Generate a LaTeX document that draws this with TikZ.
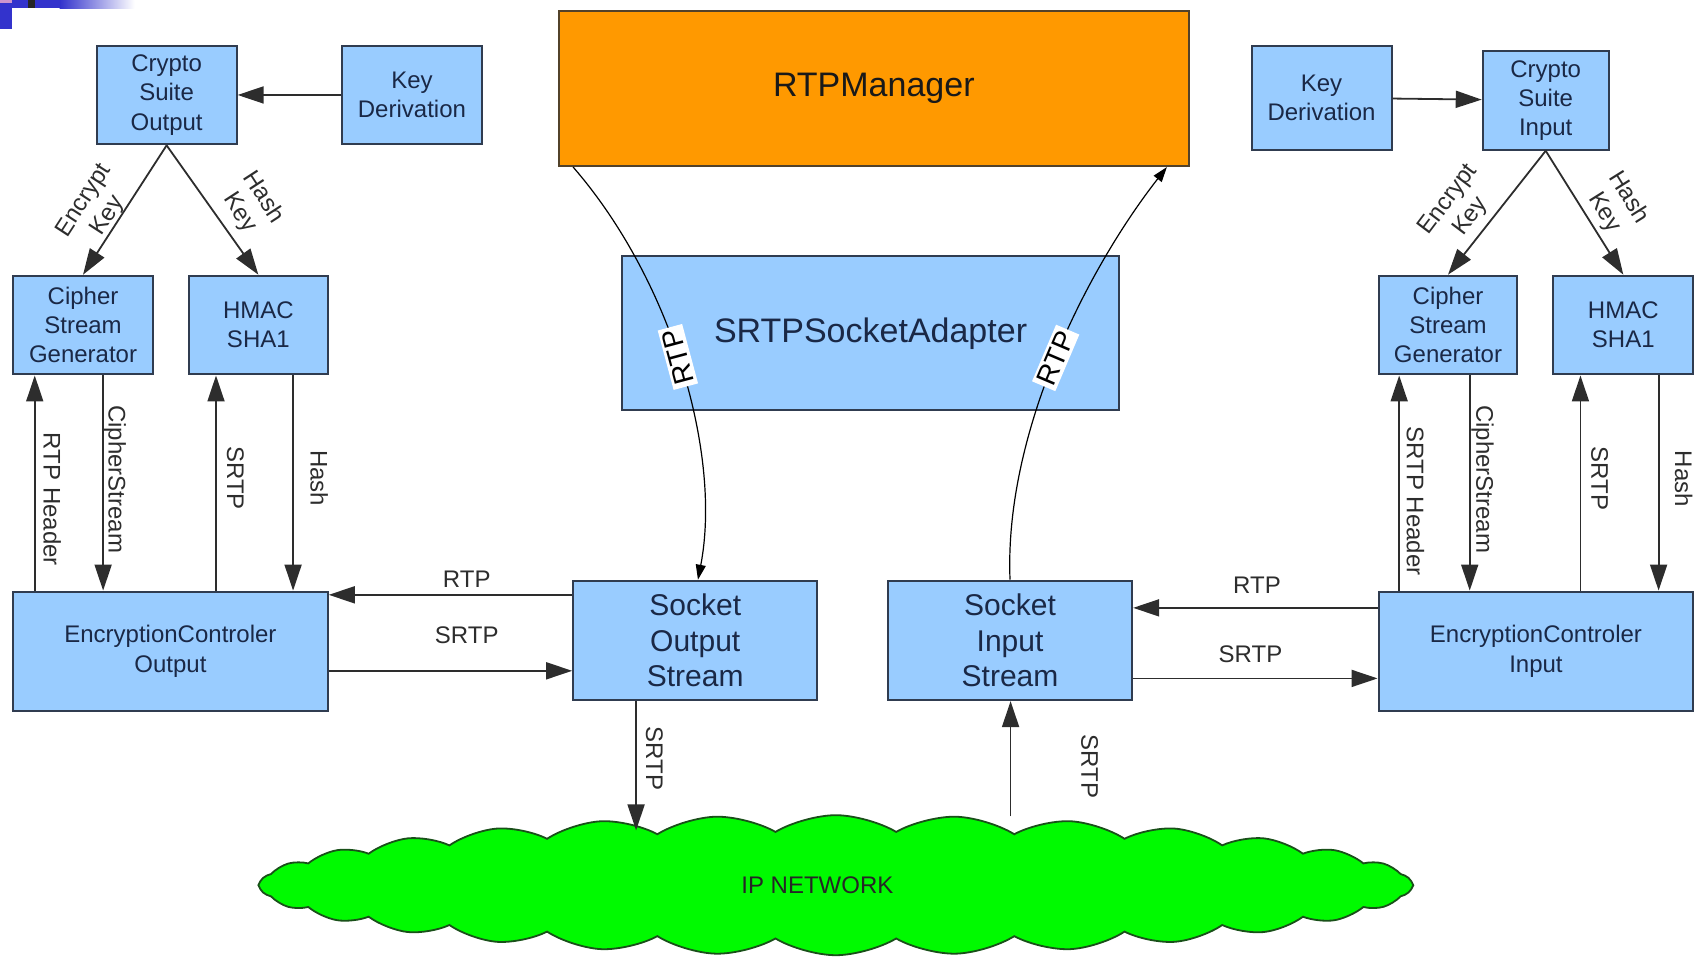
\documentclass[tikz,border=0pt]{standalone}
\usepackage{fontspec}
\setmainfont{Liberation Sans}
\usetikzlibrary{arrows.meta,shapes.symbols}

\newdimen\ux
\ux=0.54273pt

\definecolor{boxblue}{RGB}{153,204,255}
\definecolor{boxline}{RGB}{48,60,80}
\definecolor{boxtext}{RGB}{26,40,70}
\definecolor{mgrorange}{RGB}{255,153,0}
\definecolor{mgrline}{RGB}{82,66,42}
\definecolor{netgreen}{RGB}{0,250,0}
\definecolor{netline}{RGB}{25,80,25}
\definecolor{decoblue}{RGB}{51,51,204}
\definecolor{decopink}{RGB}{205,150,205}
\definecolor{wire}{RGB}{45,45,45}

\begin{document}
\begin{tikzpicture}[x=0.54273pt, y=-0.54273pt,
  box/.style={draw=boxline, line width=1pt, fill=boxblue, inner sep=0pt,
    text=boxtext, align=center, font=\fontsize{12}{14.6}\selectfont},
  size/.style 2 args={minimum width=#1\ux, minimum height=#2\ux},
  sockbox/.style={box, font=\fontsize{15}{17.9}\selectfont},
  titlebox/.style={box, font=\fontsize{17}{20}\selectfont},
  arr/.style={draw=wire, line width=0.9pt, -{Triangle[length=13pt,width=8.5pt]}},
  curve/.style={draw=black, line width=0.6pt, -{Triangle[length=7.5pt,width=5pt]}},
  lbl/.style={text=wire, inner sep=1pt, font=\fontsize{12}{14}\selectfont, align=center},
  vlbl/.style={lbl, rotate=-90, anchor=mid},
  rtplbl/.style={fill=white, text=black, inner sep=1.5pt, font=\fontsize{14}{16}\selectfont},
]
\useasboundingbox (0,0) rectangle (1568,881);

% corner ornament of the slide
\shade[left color=decoblue, right color=white] (55,0) rectangle (124,7.4);
\fill[decoblue] (0,0) rectangle (56,7.4);
\fill[decoblue] (0,0) rectangle (11,27);
\fill[decopink] (0,0) rectangle (11,2.5);
\fill[black!85] (26,0) rectangle (32,7.4);

% output side (left)
\node[box, size={129}{91}]  (cso)   at (153.5,87.5) {Crypto\\Suite\\Output};
\node[box, size={129}{91}]  (kdl)   at (379.5,87.5) {Key\\Derivation};
\node[box, size={129}{91}]  (csgl)  at (76.5,299.5) {Cipher\\Stream\\Generator};
\node[box, size={128}{91}]  (hmacl) at (238,299.5)  {HMAC\\SHA1};
\node[box, size={290}{110}] (eco)   at (157,600)    {EncryptionControler\\Output};

% input side (right)
\node[box, size={129}{96}]  (kdr)   at (1217.5,90)   {Key\\Derivation};
\node[box, size={116}{91}]  (csi)   at (1424,92.5)   {Crypto\\Suite\\Input};
\node[box, size={128}{91}]  (csgr)  at (1334,299.5)  {Cipher\\Stream\\Generator};
\node[box, size={129}{91}]  (hmacr) at (1495.5,299.5){HMAC\\SHA1};
\node[box, size={290}{110}] (eci)   at (1415,600)    {EncryptionControler\\Input};

% middle column
\node[titlebox, size={580}{143}, fill=mgrorange, draw=mgrline, text=black!90] (mgr) at (805,81.5) {RTPManager};
\node[titlebox, size={458}{142}] (ssa) at (802,307) {SRTPSocketAdapter};
\node[sockbox, size={225}{110}] (sos) at (640.5,590) {Socket\\Output\\Stream};
\node[sockbox, size={225}{110}] (sis) at (930.5,590) {Socket\\Input\\Stream};

% the network
\node[cloud, cloud puffs=30, cloud puff arc=62, aspect=8.2, draw=netline, fill=netgreen,
      line width=0.9pt, size={1061}{129}, inner sep=0pt,
      label={[lbl, text=black!85, xshift=-17\ux]center:IP NETWORK}] (net) at (770,815.5) {};
\coordinate (netin)  at (586,765);
\coordinate (netout) at (931,752);

% key derivation and crypto suites
\draw[arr] (kdl) -- (cso);
\draw[arr] (kdr) -- (csi);
\draw[arr] (cso.south) -- (csgl.north);
\draw[arr] (cso.south) -- (hmacl.north);
\draw[arr] (csi.south) -- (csgr.north);
\draw[arr] (csi.south) -- (hmacr.north);
\node[lbl, rotate=57]  at (88.5,192) {Encrypt\\Key};
\node[lbl, rotate=-57] at (231.5,189) {Hash\\Key};
\node[lbl, rotate=53]  at (1345,192) {Encrypt\\Key};
\node[lbl, rotate=-58] at (1489,189) {Hash\\Key};

% encryption controller, output side
\draw[arr] (eco.north -| 32,0) -- (csgl.south -| 32,0);
\draw[arr] (csgl.south -| 95,0) -- (eco.north -| 95,0);
\draw[arr] (eco.north -| 199,0) -- (hmacl.south -| 199,0);
\draw[arr] (hmacl.south -| 270,0) -- (eco.north -| 270,0);
\node[vlbl] at (45,460) {RTP Header};
\node[vlbl] at (105,441.5) {CipherStream};
\node[vlbl] at (214,440.5) {SRTP};
\node[vlbl] at (291,440.6) {Hash};

% encryption controller, input side
\draw[arr] (eci.north -| 1289,0) -- (csgr.south -| 1289,0);
\draw[arr] (csgr.south -| 1354,0) -- (eci.north -| 1354,0);
\draw[arr] (eci.north -| 1456,0) -- (hmacr.south -| 1456,0);
\draw[arr] (hmacr.south -| 1528,0) -- (eci.north -| 1528,0);
\node[vlbl] at (1301,461.5) {SRTP Header};
\node[vlbl] at (1365,441.5) {CipherStream};
\node[vlbl] at (1471,441) {SRTP};
\node[vlbl] at (1548,441) {Hash};

% sockets and controllers
\draw[arr] (sos.west |- 0,548) -- (eco.east |- 0,548);
\draw[arr] (eco.east |- 0,618) -- (sos.west |- 0,618);
\draw[arr] (eci.west |- 0,560) -- (sis.east |- 0,560);
\draw[arr] (sis.east |- 0,625) -- (eci.west |- 0,625);
\node[lbl] at (430,533.5) {RTP};
\node[lbl] at (430,585) {SRTP};
\node[lbl] at (1158,539) {RTP};
\node[lbl] at (1152,603) {SRTP};

% sockets and the network
\draw[arr] (sos.south -| netin) -- (netin);
\draw[arr] (netout) -- (sis.south -| netout);
\node[vlbl] at (600,698.6) {SRTP};
\node[vlbl] at (1001,706) {SRTP};

% RTP flow through the socket adapter
\draw[curve] (mgr.south -| 528,0) .. controls (620,260) and (665,420) .. (sos.north -| 643,0)
  node[rtplbl, pos=0.47, rotate=105] {RTP};
\draw[curve] (sis.north) .. controls (925,400) and (1000,250) .. (mgr.south -| 1075,0)
  node[rtplbl, pos=0.5, rotate=67] {RTP};
\end{tikzpicture}
\end{document}
